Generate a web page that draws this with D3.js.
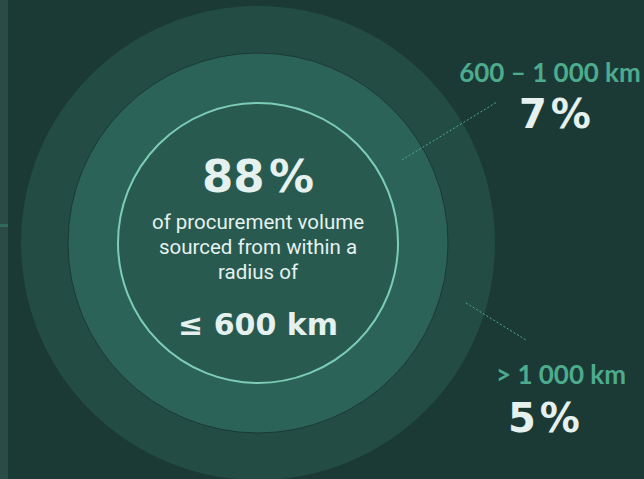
<!DOCTYPE html>
<html>
<head>
<meta charset="utf-8">
<script src="https://cdn.jsdelivr.net/npm/d3@7"></script>
<style>
  body { margin: 0; background: #1c3a35; overflow: hidden; }
  svg { display: block; }
</style>
</head>
<body>
<script>
var width = 644, height = 479

// data
var categories = ["≤ 600 km", "600 – 1 000 km", "> 1 000 km"]
var shares = [88, 7, 5]
var caption = ["of procurement volume", "sourced from within a", "radius of"]

var svg = d3.select("body").append("svg")
  .attr("width", width)
  .attr("height", height)

svg.append("rect").attr("width", width).attr("height", height).attr("fill", "#1c3a35")

// thin strip on the left edge
svg.append("rect").attr("x", 0).attr("y", 0).attr("width", 8).attr("height", height).attr("fill", "#2a4c45")
svg.append("rect").attr("x", 0).attr("y", 224).attr("width", 8).attr("height", 3).attr("fill", "#2f6a5c")

var cx = 258, cy = 243

// ring radius per category (outer edge of each band)
var radius = d3.scaleOrdinal().domain(categories).range([140, 190, 237])
var fill = d3.scaleOrdinal().domain(categories).range(["#285a50", "#2b6358", "#224c44"])

var rings = svg.append("g").attr("class", "rings")
  .selectAll("circle")
  .data(categories.slice().reverse())
  .enter().append("circle")
  .attr("cx", cx)
  .attr("cy", cy)
  .attr("r", function(d) { return radius(d) })
  .attr("fill", function(d) { return fill(d) })
  .attr("stroke", function(d, i) { return i == 0 ? "none" : (i == 1 ? "#1b3a33" : "#7dcdb6") })
  .attr("stroke-width", function(d, i) { return i == 2 ? 2 : 1 })

var white = "#e4f1ee", teal = "#4dab8e"
var heavy = "'DejaVu Sans', sans-serif"

// centre text
svg.append("text")
  .attr("x", cx).attr("y", 192)
  .attr("text-anchor", "middle")
  .attr("font-family", heavy)
  .attr("font-weight", 700)
  .attr("font-size", 45)
  .attr("fill", white)
  .text(shares[0] + "\u200A%")

svg.append("g").selectAll("text")
  .data(caption)
  .enter().append("text")
  .attr("x", cx)
  .attr("y", function(d, i) { return 229 + i * 25 })
  .attr("text-anchor", "middle")
  .attr("font-family", "Roboto, sans-serif")
  .attr("font-size", 20.5)
  .attr("fill", white)
  .text(function(d) { return d })

svg.append("text")
  .attr("x", cx).attr("y", 335)
  .attr("text-anchor", "middle")
  .attr("font-family", heavy)
  .attr("font-weight", 700)
  .attr("font-size", 30)
  .attr("fill", white)
  .text(categories[0])

// outer labels
var labels = [
  { cat: categories[1], share: shares[1], x: 550, y: 82, px: 555, py: 128, line: [[402, 160], [497, 102]] },
  { cat: categories[2], share: shares[2], x: 561, y: 384, px: 544, py: 432, line: [[466, 303], [526, 340]] }
]

var lab = svg.append("g").selectAll("g")
  .data(labels)
  .enter().append("g")

lab.append("line")
  .attr("x1", function(d) { return d.line[0][0] })
  .attr("y1", function(d) { return d.line[0][1] })
  .attr("x2", function(d) { return d.line[1][0] })
  .attr("y2", function(d) { return d.line[1][1] })
  .attr("stroke", teal)
  .attr("stroke-width", 1)
  .attr("stroke-dasharray", "2,2")

lab.append("text")
  .attr("x", function(d) { return d.x })
  .attr("y", function(d) { return d.y })
  .attr("text-anchor", "middle")
  .attr("font-family", "Lato, sans-serif")
  .attr("font-weight", 700)
  .attr("font-size", 26)
  .attr("fill", teal)
  .text(function(d) { return d.cat })

lab.append("text")
  .attr("x", function(d) { return d.px })
  .attr("y", function(d) { return d.py })
  .attr("text-anchor", "middle")
  .attr("font-family", heavy)
  .attr("font-weight", 700)
  .attr("font-size", 40)
  .attr("fill", white)
  .text(function(d) { return d.share + "\u200A%" })
</script>
</body>
</html>
